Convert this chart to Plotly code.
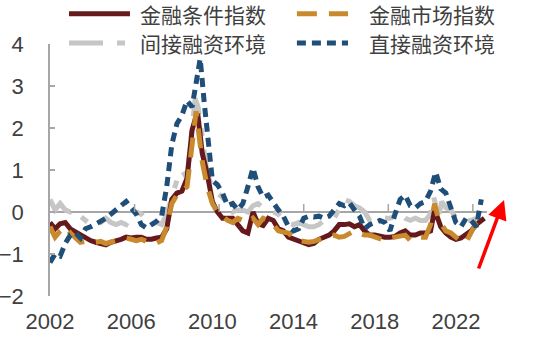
import plotly.graph_objects as go

# ---------------- data ----------------
fci_x = [2002.0, 2002.25, 2002.5, 2002.75, 2003.0, 2003.25, 2003.5, 2003.75, 2004.0, 2004.25, 2004.5, 2004.75,
         2005.0, 2005.25, 2005.5, 2005.75, 2006.0, 2006.25, 2006.5, 2006.75, 2007.0, 2007.25, 2007.5, 2007.75,
         2008.0, 2008.25, 2008.5, 2008.75, 2009.0, 2009.15, 2009.3, 2009.5, 2009.75, 2010.0, 2010.25, 2010.5,
         2010.75, 2011.0, 2011.25, 2011.5, 2011.75, 2012.0, 2012.25, 2012.5, 2012.75, 2013.0, 2013.25, 2013.5,
         2013.75, 2014.0, 2014.25, 2014.5, 2014.75, 2015.0, 2015.25, 2015.5, 2015.75, 2016.0, 2016.25, 2016.5,
         2016.75, 2017.0, 2017.25, 2017.5, 2017.75, 2018.0, 2018.25, 2018.5, 2018.75, 2019.0, 2019.25, 2019.5,
         2019.75, 2020.0, 2020.25, 2020.5, 2020.75, 2020.95, 2021.25, 2021.5, 2021.75, 2022.0, 2022.25, 2022.5,
         2022.75, 2023.0, 2023.4]
fci_y = [-0.25, -0.4, -0.28, -0.25, -0.4, -0.47, -0.55, -0.62, -0.68, -0.72, -0.75, -0.78,
         -0.72, -0.7, -0.65, -0.6, -0.62, -0.6, -0.6, -0.65, -0.65, -0.62, -0.6, -0.4,
         0.3, 0.45, 0.5, 0.8, 1.95, 2.2, 2.25, 1.4, 0.9, 0.25, 0.0, -0.15,
         -0.15, -0.15, -0.3, -0.45, -0.5, 0.0, -0.28, -0.32, -0.15, -0.2, -0.4, -0.45,
         -0.6, -0.65, -0.7, -0.75, -0.78, -0.75, -0.65, -0.6, -0.55, -0.45, -0.3, -0.3,
         -0.28, -0.35, -0.3, -0.45, -0.55, -0.55, -0.58, -0.6, -0.6, -0.58, -0.5, -0.45,
         -0.55, -0.55, -0.5, -0.5, -0.45, 0.05, -0.35, -0.5, -0.6, -0.65, -0.62, -0.55,
         -0.45, -0.3, -0.15]

mkt_x = [2002.0, 2002.25, 2002.5, 2002.75, 2003.0, 2003.25, 2003.5, 2003.75, 2004.0, 2004.25, 2004.5, 2004.75,
         2005.0, 2005.25, 2005.5, 2005.75, 2006.0, 2006.25, 2006.5, 2006.75, 2007.0, 2007.25, 2007.5, 2007.75,
         2008.0, 2008.25, 2008.5, 2008.75, 2009.0, 2009.2, 2009.35, 2009.5, 2009.75, 2010.0, 2010.25, 2010.5,
         2010.75, 2011.0, 2011.25, 2011.5, 2011.75, 2012.0, 2012.25, 2012.5, 2012.75, 2013.0, 2013.25, 2013.5,
         2013.75, 2014.0, 2014.25, 2014.5, 2014.75, 2015.0, 2015.25, 2015.5, 2015.75, 2016.0, 2016.25, 2016.5,
         2016.75, 2017.0, 2017.25, 2017.5, 2017.75, 2018.0, 2018.25, 2018.5, 2018.75, 2019.0, 2019.25, 2019.5,
         2019.75, 2020.0, 2020.25, 2020.5, 2020.75, 2020.95, 2021.15, 2021.5, 2021.75, 2022.0, 2022.25, 2022.5,
         2022.75, 2023.0, 2023.4]
mkt_y = [-0.35, -0.6, -0.45, -0.35, -0.5, -0.6, -0.72, -0.7, -0.68, -0.72, -0.7, -0.75,
         -0.7, -0.68, -0.65, -0.62, -0.65, -0.68, -0.65, -0.7, -0.68, -0.74, -0.68, -0.35,
         0.2, 0.4, 0.5, 0.6, 1.6, 2.4, 1.8, 1.2, 0.6, 0.2, 0.0, -0.1,
         -0.2, -0.25, -0.15, -0.2, -0.25, -0.15, -0.3, -0.15, -0.2, -0.3, -0.45, -0.48,
         -0.5, -0.62, -0.68, -0.7, -0.72, -0.7, -0.65, -0.6, -0.58, -0.55, -0.6, -0.58,
         -0.5, -0.45, -0.5, -0.55, -0.55, -0.6, -0.62, -0.68, -0.62, -0.6, -0.55, -0.55,
         -0.68, -0.62, -0.6, -0.6, -0.3, 0.2, -0.2, -0.45, -0.5, -0.62, -0.7, -0.72,
         -0.5, -0.25, -0.12]

ind_x = [2002.0, 2002.25, 2002.5, 2002.75, 2003.0, 2003.25, 2003.5, 2003.75, 2004.0, 2004.25, 2004.5, 2004.75,
         2005.0, 2005.25, 2005.5, 2005.75, 2006.0, 2006.25, 2006.5, 2006.75, 2007.0, 2007.25, 2007.5, 2007.75,
         2008.0, 2008.25, 2008.5, 2008.75, 2009.0, 2009.15, 2009.3, 2009.5, 2009.75, 2010.0, 2010.25, 2010.5,
         2010.75, 2011.0, 2011.25, 2011.5, 2011.75, 2012.0, 2012.25, 2012.5, 2012.75, 2013.0, 2013.25, 2013.5,
         2013.75, 2014.0, 2014.25, 2014.5, 2014.75, 2015.0, 2015.25, 2015.5, 2015.75, 2016.0, 2016.25, 2016.5,
         2016.75, 2017.0, 2017.25, 2017.5, 2017.75, 2018.0, 2018.25, 2018.5, 2018.75, 2019.0, 2019.25, 2019.5,
         2019.75, 2020.0, 2020.25, 2020.5, 2020.75, 2020.9, 2021.15, 2021.3, 2021.5, 2021.75, 2022.0, 2022.25,
         2022.5, 2022.75, 2023.0, 2023.25]
ind_y = [0.3, 0.05, 0.2, 0.05, 0.0, 0.05, -0.1, -0.2, -0.3, -0.35, -0.25, -0.15,
         -0.25, -0.3, -0.25, -0.3, -0.1, 0.0, -0.05, -0.2, -0.3, -0.25, -0.3, -0.05,
         0.35, 0.75, 1.0, 0.8, 2.0, 2.7, 2.5, 1.7, 0.9, 0.6, 0.45, 0.35,
         0.15, 0.0, 0.05, 0.05, 0.0, 0.15, 0.2, 0.1, 0.05, 0.0, -0.05, -0.2,
         -0.27, -0.3, -0.25, -0.3, -0.35, -0.35, -0.3, -0.2, -0.15, -0.15, 0.1, 0.3,
         0.25, 0.15, 0.1, 0.0, -0.2, -0.2, -0.2, -0.15, -0.15, -0.1, -0.05, -0.15,
         -0.2, -0.15, -0.2, -0.2, -0.05, 0.36, -0.1, 0.25, 0.1, 0.05, -0.15, -0.2,
         -0.2, -0.2, -0.15, 0.05]

dir_x = [2002.0, 2002.25, 2002.5, 2002.75, 2003.0, 2003.25, 2003.5, 2003.75, 2004.0, 2004.25, 2004.5, 2004.75,
         2005.0, 2005.25, 2005.5, 2005.75, 2006.0, 2006.25, 2006.5, 2006.75, 2007.0, 2007.25, 2007.5, 2007.75,
         2008.0, 2008.25, 2008.5, 2008.75, 2009.0, 2009.25, 2009.4, 2009.6, 2009.8, 2010.0, 2010.25, 2010.5,
         2010.75, 2011.0, 2011.25, 2011.5, 2011.75, 2012.0, 2012.25, 2012.5, 2012.75, 2013.0, 2013.25, 2013.5,
         2013.75, 2014.0, 2014.25, 2014.5, 2014.75, 2015.0, 2015.25, 2015.5, 2015.75, 2016.0, 2016.25, 2016.5,
         2016.75, 2017.0, 2017.25, 2017.5, 2017.75, 2018.0, 2018.25, 2018.5, 2018.75, 2019.0, 2019.25, 2019.5,
         2019.75, 2020.0, 2020.25, 2020.5, 2020.75, 2021.0, 2021.25, 2021.5, 2021.75, 2022.0, 2022.25, 2022.5,
         2022.75, 2023.0, 2023.25]
dir_y = [-1.2, -1.0, -1.05, -0.75, -0.55, -0.5, -0.62, -0.4, -0.35, -0.3, -0.22, -0.15,
         -0.05, 0.05, 0.15, 0.25, 0.1, -0.05, -0.3, -0.38, -0.3, -0.22, -0.1, 0.6,
         1.6, 2.1, 2.3, 2.65, 2.5, 3.3, 3.65, 2.6, 1.6, 0.75, 0.65, 0.45,
         0.15, 0.2, 0.05, 0.2, 0.6, 1.05, 0.6, 0.35, 0.4, 0.2, 0.05, -0.1,
         -0.35, -0.45, -0.4, -0.15, -0.1, -0.12, -0.1, -0.15, -0.1, 0.05, 0.2, 0.15,
         0.22, 0.05, -0.1, -0.4, -0.3, -0.25, -0.2, -0.25, -0.45, -0.05, 0.3, 0.4,
         0.15, 0.1, 0.2, 0.25, 0.5, 0.95, 0.55, 0.45, 0.1, -0.25, -0.35, -0.15,
         -0.2, -0.35, 0.3]

series_names = ["金融条件指数", "金融市场指数", "间接融资环境", "直接融资环境"]
x_tick_labels = ["2002", "2006", "2010", "2014", "2018", "2022"]
x_tick_vals = [2002, 2006, 2010, 2014, 2018, 2022]
y_tick_vals = [-2, -1, 0, 1, 2, 3, 4]
x_mark_vals = [2002 + 50 / 12 * k for k in range(1, 6)]  # minor tick marks on the zero axis

# ---------------- styles ----------------
C_RED = "#65191C"
C_GOLD = "#C98A2E"
C_GRAY = "#C6C6C6"
C_BLUE = "#1F4E79"
AXIS = "#A6A6A6"
TXT = "#404040"
D_GOLD = "20px,12px"
D_GRAY = "34px,14px,8px,14px"
D_BLUE = "9px,6px"
LW = 5

fig = go.Figure()
fig.add_trace(go.Scatter(x=ind_x, y=ind_y, mode="lines", name=series_names[2],
                         line=dict(color=C_GRAY, width=LW, dash=D_GRAY)))
fig.add_trace(go.Scatter(x=fci_x, y=fci_y, mode="lines", name=series_names[0],
                         line=dict(color=C_RED, width=LW)))
fig.add_trace(go.Scatter(x=mkt_x, y=mkt_y, mode="lines", name=series_names[1],
                         line=dict(color=C_GOLD, width=LW, dash=D_GOLD)))
fig.add_trace(go.Scatter(x=dir_x, y=dir_y, mode="lines", name=series_names[3],
                         line=dict(color=C_BLUE, width=LW, dash=D_BLUE)))

# custom legend (paper coords)
legend_items = [
    (series_names[0], C_RED, "solid", 0.0435, 0.183, 0.201, 1.12),
    (series_names[1], C_GOLD, D_GOLD, 0.565, 0.682, 0.725, 1.12),
    (series_names[2], C_GRAY, D_GRAY, 0.0435, 0.183, 0.201, 1.004),
    (series_names[3], C_BLUE, D_BLUE, 0.565, 0.682, 0.725, 1.004),
]
shapes = []
annotations = []
for name, col, dash, x0, x1, xt, yy in legend_items:
    shapes.append(dict(type="line", xref="paper", yref="paper", x0=x0, x1=x1, y0=yy, y1=yy,
                       line=dict(color=col, width=LW, dash=dash)))
    annotations.append(dict(xref="paper", yref="paper", x=xt, y=yy, text=name, showarrow=False,
                            xanchor="left", yanchor="middle",
                            font=dict(family="Noto Sans CJK SC", size=21, color=TXT)))

# tick marks on the zero axis
for xv in x_mark_vals:
    shapes.append(dict(type="line", xref="x", yref="y", x0=xv, x1=xv, y0=0, y1=0.19,
                       line=dict(color=AXIS, width=1.5)))

# red arrow
annotations.append(dict(xref="paper", yref="paper", x=1.039, y=0.381, ax=-26, ay=70,
                        text="", showarrow=True, arrowhead=2, arrowsize=1.1, arrowwidth=3.5,
                        arrowcolor="#FF0000"))

fig.update_layout(
    width=542, height=348,
    margin=dict(l=50, r=55, t=44, b=52),
    paper_bgcolor="white", plot_bgcolor="white",
    showlegend=False,
    shapes=shapes, annotations=annotations,
    font=dict(family="Liberation Sans", size=22, color=TXT),
)
fig.update_xaxes(range=[2002, 2023.53], tickvals=x_tick_vals, ticktext=x_tick_labels,
                 showgrid=False, zeroline=False, showline=False, ticks="", automargin=False,
                 ticklabelstandoff=10, tickfont=dict(family="Liberation Sans", size=22, color=TXT))
fig.update_yaxes(range=[-2, 4], tickvals=y_tick_vals, showgrid=False, automargin=False,
                 zeroline=True, zerolinecolor=AXIS, zerolinewidth=1.5,
                 showline=True, linecolor=AXIS, linewidth=1.5,
                 ticks="inside", ticklen=5, tickcolor=AXIS, tickwidth=1.5,
                 ticklabelstandoff=20, tickfont=dict(family="Liberation Sans", size=22, color=TXT))

fig.write_html("out.html")
